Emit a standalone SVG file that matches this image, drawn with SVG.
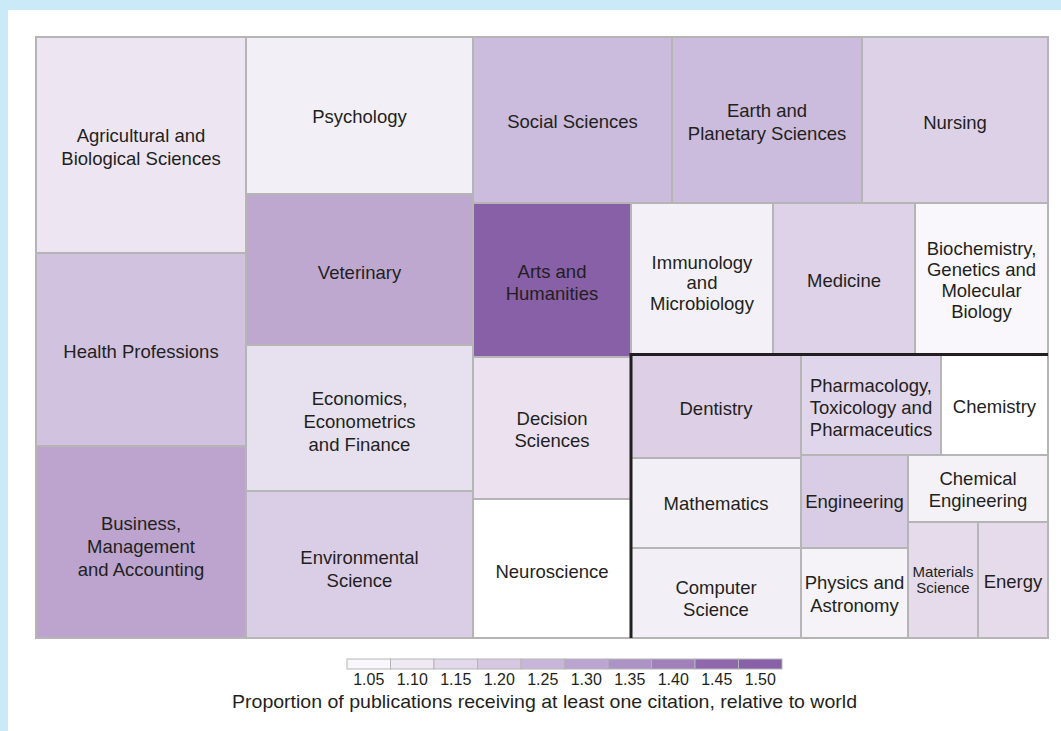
<svg xmlns="http://www.w3.org/2000/svg" width="1061" height="731" viewBox="0 0 1061 731">
<style>
.c{stroke:#b5b5b5;stroke-width:2}
.t{font-family:"Liberation Sans",Arial,sans-serif;font-size:18.5px;fill:#231f20;text-anchor:middle}
.s{font-size:15px}
.lg{stroke:#b5b5b5;stroke-width:1}
.ln{font-family:"Liberation Sans",Arial,sans-serif;font-size:16px;fill:#231f20;text-anchor:middle}
</style>
<rect x="0" y="0" width="1061" height="731" fill="#c9eaf6"/>
<rect x="8" y="10" width="1053" height="721" fill="#ffffff"/>
<g id="cells">
<g id="agricultural"><rect class="c" x="36" y="37" width="210" height="216" fill="#ede6f2"/><text class="t" x="141" y="142">Agricultural and</text><text class="t" x="141" y="165">Biological Sciences</text></g>
<g id="health-professions"><rect class="c" x="36" y="253" width="210" height="193" fill="#d1c3df"/><text class="t" x="141" y="358">Health Professions</text></g>
<g id="business"><rect class="c" x="36" y="446" width="210" height="192" fill="#bca4ce"/><text class="t" x="141" y="530">Business,</text><text class="t" x="141" y="553">Management</text><text class="t" x="141" y="576">and Accounting</text></g>
<g id="psychology"><rect class="c" x="246" y="37" width="227" height="157" fill="#f3eff6"/><text class="t" x="359.5" y="123">Psychology</text></g>
<g id="veterinary"><rect class="c" x="246" y="194" width="227" height="151" fill="#bfa8d0"/><text class="t" x="359.5" y="279">Veterinary</text></g>
<g id="economics"><rect class="c" x="246" y="345" width="227" height="146" fill="#e6e0ef"/><text class="t" x="359.5" y="405">Economics,</text><text class="t" x="359.5" y="428">Econometrics</text><text class="t" x="359.5" y="451">and Finance</text></g>
<g id="environmental"><rect class="c" x="246" y="491" width="227" height="147" fill="#dacde6"/><text class="t" x="359.5" y="564">Environmental</text><text class="t" x="359.5" y="587">Science</text></g>
<g id="social-sciences"><rect class="c" x="473" y="37" width="199" height="166" fill="#cbbbdc"/><text class="t" x="572.5" y="128">Social Sciences</text></g>
<g id="earth"><rect class="c" x="672" y="37" width="190" height="166" fill="#cbbbdc"/><text class="t" x="767" y="117">Earth and</text><text class="t" x="767" y="140">Planetary Sciences</text></g>
<g id="nursing"><rect class="c" x="862" y="37" width="186" height="166" fill="#ddd1e8"/><text class="t" x="955" y="129">Nursing</text></g>
<g id="arts"><rect class="c" x="473" y="203" width="158" height="154" fill="#8760a8"/><text class="t" x="552" y="278">Arts and</text><text class="t" x="552" y="300">Humanities</text></g>
<g id="immunology"><rect class="c" x="631" y="203" width="142" height="151" fill="#f3f1f7"/><text class="t" x="702" y="269">Immunology</text><text class="t" x="702" y="289">and</text><text class="t" x="702" y="310">Microbiology</text></g>
<g id="medicine"><rect class="c" x="773" y="203" width="142" height="151" fill="#ded2e8"/><text class="t" x="844" y="287">Medicine</text></g>
<g id="biochemistry"><rect class="c" x="915" y="203" width="133" height="151" fill="#f9f7fb"/><text class="t" x="981.5" y="255">Biochemistry,</text><text class="t" x="981.5" y="276">Genetics and</text><text class="t" x="981.5" y="297">Molecular</text><text class="t" x="981.5" y="318">Biology</text></g>
<g id="decision"><rect class="c" x="473" y="357" width="158" height="142" fill="#ebe1ef"/><text class="t" x="552" y="425">Decision</text><text class="t" x="552" y="447">Sciences</text></g>
<g id="neuroscience"><rect class="c" x="473" y="499" width="158" height="139" fill="#ffffff"/><text class="t" x="552" y="578">Neuroscience</text></g>
<g id="dentistry"><rect class="c" x="631" y="354" width="170" height="104" fill="#dccfe6"/><text class="t" x="716" y="415">Dentistry</text></g>
<g id="pharmacology"><rect class="c" x="801" y="354" width="140" height="101" fill="#e0d6eb"/><text class="t" x="871" y="392">Pharmacology,</text><text class="t" x="871" y="414">Toxicology and</text><text class="t" x="871" y="436">Pharmaceutics</text></g>
<g id="chemistry"><rect class="c" x="941" y="354" width="107" height="101" fill="#ffffff"/><text class="t" x="994.5" y="413">Chemistry</text></g>
<g id="mathematics"><rect class="c" x="631" y="458" width="170" height="90" fill="#f3eff6"/><text class="t" x="716" y="510">Mathematics</text></g>
<g id="computer-science"><rect class="c" x="631" y="548" width="170" height="90" fill="#f3eff6"/><text class="t" x="716" y="594">Computer</text><text class="t" x="716" y="616">Science</text></g>
<g id="engineering"><rect class="c" x="801" y="455" width="107" height="93" fill="#d9cce5"/><text class="t" x="854.5" y="508">Engineering</text></g>
<g id="chemical-engineering"><rect class="c" x="908" y="455" width="140" height="67" fill="#f4f2f7"/><text class="t" x="978" y="485">Chemical</text><text class="t" x="978" y="507">Engineering</text></g>
<g id="physics"><rect class="c" x="801" y="548" width="107" height="90" fill="#f5f2f8"/><text class="t" x="854.5" y="589">Physics and</text><text class="t" x="854.5" y="612">Astronomy</text></g>
<g id="materials"><rect class="c" x="908" y="522" width="70" height="116" fill="#e6dbeb"/><text class="t s" x="943" y="577">Materials</text><text class="t s" x="943" y="593">Science</text></g>
<g id="energy"><rect class="c" x="978" y="522" width="70" height="116" fill="#e6dbeb"/><text class="t" x="1013" y="588">Energy</text></g>
</g>
<g id="connectors"></g>
<g id="group-outline"><path d="M631 638 V354.5 H1048" fill="none" stroke="#231f20" stroke-width="3"/></g>
<g id="legend">
<rect class="lg" x="347" y="659" width="43.5" height="10" fill="#f9f7fb"/>
<rect class="lg" x="390.5" y="659" width="43.5" height="10" fill="#efe9f4"/>
<rect class="lg" x="434" y="659" width="43.5" height="10" fill="#e3d9ec"/>
<rect class="lg" x="477.5" y="659" width="43.5" height="10" fill="#d6c8e2"/>
<rect class="lg" x="521" y="659" width="43.5" height="10" fill="#c8b5da"/>
<rect class="lg" x="564.5" y="659" width="43.5" height="10" fill="#bba4cf"/>
<rect class="lg" x="608" y="659" width="43.5" height="10" fill="#ac92c5"/>
<rect class="lg" x="651.5" y="659" width="43.5" height="10" fill="#a07fbb"/>
<rect class="lg" x="695" y="659" width="43.5" height="10" fill="#8f67ad"/>
<rect class="lg" x="738.5" y="659" width="43.5" height="10" fill="#8760a8"/>
<text class="ln" x="368.75" y="685">1.05</text>
<text class="ln" x="412.25" y="685">1.10</text>
<text class="ln" x="455.75" y="685">1.15</text>
<text class="ln" x="499.25" y="685">1.20</text>
<text class="ln" x="542.75" y="685">1.25</text>
<text class="ln" x="586.25" y="685">1.30</text>
<text class="ln" x="629.75" y="685">1.35</text>
<text class="ln" x="673.25" y="685">1.40</text>
<text class="ln" x="716.75" y="685">1.45</text>
<text class="ln" x="760.25" y="685">1.50</text>
<text class="ln" x="544.5" y="708" style="font-size:18.5px" textLength="625" lengthAdjust="spacingAndGlyphs">Proportion of publications receiving at least one citation, relative to world</text>
</g>
</svg>
